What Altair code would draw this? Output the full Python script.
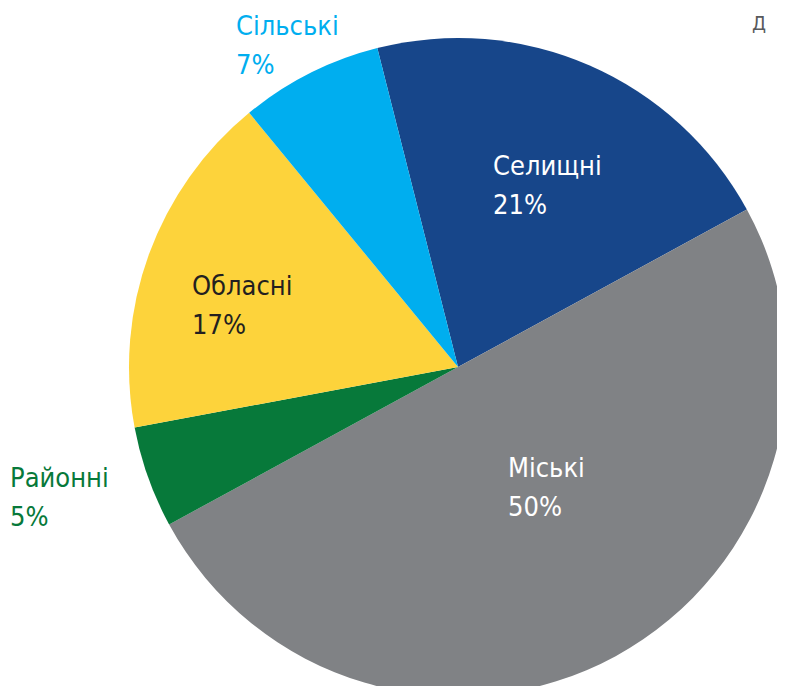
import math
import altair as alt
import pandas as pd

categories = ["Селищні", "Міські", "Районні", "Обласні", "Сільські"]
shares = [21, 50, 5, 17, 7]
colors = ["#17468a", "#808285", "#07793a", "#fdd33b", "#00aeef"]
label_colors = ["#ffffff", "#ffffff", "#07793a", "#231f20", "#00aeef"]

df = pd.DataFrame({
    "cat": categories,
    "pct": shares,
    "idx": list(range(len(categories))),
})

start = -14.2 * math.pi / 180
CX, CY, R = 450, 359, 329
FONT = "DejaVu Sans Condensed, Liberation Sans Narrow, Roboto, sans-serif"

base = alt.Chart(df)

pie = base.mark_arc(radius=R, x=CX, y=CY).encode(
    theta=alt.Theta("pct:Q", stack=True,
                    scale=alt.Scale(range=[start, start + 2 * math.pi])),
    order=alt.Order("idx:Q"),
    color=alt.Color("cat:N", scale=alt.Scale(domain=categories, range=colors), legend=None),
)

# label anchor (left, first baseline) for each slice
label_pos = {
    "Сільські": (228, 27),
    "Районні": (2, 479),
    "Селищні": (485, 167),
    "Обласні": (184, 287),
    "Міські": (500, 469),
}

layers = [pie]
for cat, lc in zip(categories, label_colors):
    x, y = label_pos[cat]
    t = base.transform_filter(alt.datum.cat == cat).transform_calculate(
        label="datum.cat + '\\n' + datum.pct + '%'"
    ).mark_text(
        x=x, y=y, align="left", baseline="alphabetic", lineBreak="\n",
        lineHeight=39, font=FONT, fontSize=27, color=lc,
    ).encode(text="label:N")
    layers.append(t)

title_frag = alt.Chart(pd.DataFrame({"t": ["Д"]})).mark_text(
    x=744, y=22, align="left", baseline="alphabetic", font=FONT, fontSize=20,
    color="#58595b",
).encode(text="t:N")
layers.append(title_frag)

chart = alt.layer(*layers).properties(
    width=769, height=678, padding=0,
    autosize=alt.AutoSizeParams(type="none"),
).configure_view(stroke=None)

chart.save("out.html", embed_options={"renderer": "svg", "actions": False})
